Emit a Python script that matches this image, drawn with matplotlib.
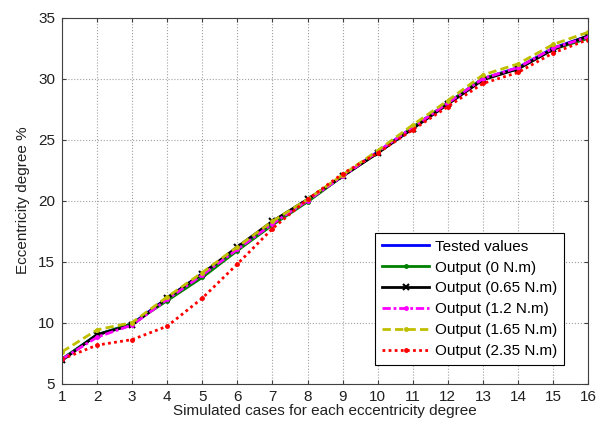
import matplotlib
matplotlib.use("Agg")
import matplotlib.pyplot as plt

plt.rcParams['font.family'] = ['Liberation Sans', 'DejaVu Sans']

cases = list(range(1, 17))
tested = [7.0, 9.0, 9.9, 12.0, 14.0, 16.1, 18.2, 20.0, 22.0, 24.0, 26.0, 28.0, 30.0, 30.9, 32.5, 33.5]
out_0 = [7.0, 9.0, 9.9, 11.8, 13.7, 15.9, 18.0, 19.9, 22.0, 23.9, 26.0, 28.0, 30.0, 30.8, 32.4, 33.3]
out_065 = [6.9, 9.0, 9.8, 12.0, 14.0, 16.2, 18.3, 20.1, 22.0, 23.9, 25.9, 27.9, 29.9, 30.8, 32.4, 33.5]
out_12 = [7.0, 8.8, 9.8, 11.9, 13.9, 16.0, 18.1, 20.0, 22.0, 24.0, 26.0, 28.0, 30.0, 30.9, 32.5, 33.4]
out_165 = [7.6, 9.4, 10.0, 12.1, 14.1, 16.2, 18.3, 20.1, 22.1, 24.1, 26.2, 28.2, 30.3, 31.2, 32.8, 33.8]
out_235 = [7.0, 8.15, 8.6, 9.7, 12.0, 14.8, 17.7, 20.1, 22.2, 23.9, 25.8, 27.7, 29.6, 30.5, 32.1, 33.2]
labels = ['Tested values', 'Output (0 N.m)', 'Output (0.65 N.m)', 'Output (1.2 N.m)',
          'Output (1.65 N.m)', 'Output (2.35 N.m)']

fig = plt.figure(figsize=(6.02, 4.25), dpi=100)
ax = fig.add_axes([0.103, 0.0976, 0.874, 0.861])

lw = 2
ax.plot(cases, tested, color='#0000ff', lw=lw, label=labels[0])
ax.plot(cases, out_0, color='#008000', lw=lw, marker='.', ms=5, label=labels[1])
ax.plot(cases, out_065, color='black', lw=lw, marker='x', ms=4, mew=1.5, label=labels[2])
ax.plot(cases, out_12, color='#ff00ff', lw=lw, ls=(0, (3, 1, 1, 1)), marker='.', ms=5, label=labels[3])
ax.plot(cases, out_165, color='#bfbf00', lw=lw, ls=(0, (3, 1.5)), marker='.', ms=5, label=labels[4])
ax.plot(cases, out_235, color='#ff0000', lw=lw, ls=(0, (1, 1.2)), marker='.', ms=5, label=labels[5])

ax.set_xlim(1, 16)
ax.set_ylim(5, 35)
ax.set_xticks(cases)
ax.set_yticks([5, 10, 15, 20, 25, 30, 35])
ax.grid(True, color='#a0a0a0', ls=':', lw=0.8)
ax.tick_params(direction='in', top=True, right=True, labelsize=11, length=3, pad=5,
               colors='#404040', labelcolor='#202020')
for s in ax.spines.values():
    s.set_color('#404040')
ax.set_xlabel('Simulated cases for each eccentricity degree', fontsize=11, color='#202020', labelpad=0)
ax.set_ylabel('Eccentricity degree %', fontsize=11, color='#202020', labelpad=6)

leg = ax.legend(loc='upper left', bbox_to_anchor=(0.595, 0.412), fontsize=11, frameon=True,
                fancybox=False, edgecolor='black', framealpha=1, handlelength=3.1,
                borderpad=0.45, labelspacing=0.45, handletextpad=0.35, borderaxespad=0)
leg.get_frame().set_linewidth(0.8)

fig.savefig('out.png', dpi=100)
